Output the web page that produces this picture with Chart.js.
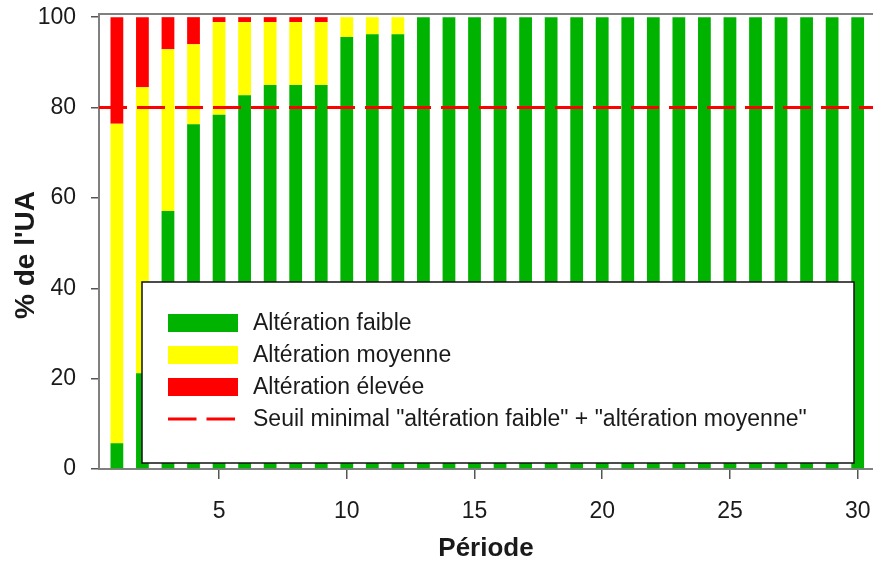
<!DOCTYPE html>
<html>
<head>
<meta charset="utf-8">
<script src="https://cdn.jsdelivr.net/npm/chart.js@4.4.1/dist/chart.umd.min.js"></script>
<style>
  html, body { margin: 0; padding: 0; background: #ffffff; }
  canvas { display: block; }
</style>
</head>
<body>
<canvas id="chart" width="873" height="561"></canvas>
<script>
// ---------------- DATA ----------------
const periods = [1, 2, 3, 4, 5, 6, 7, 8, 9, 10, 11, 12, 13, 14, 15, 16, 17, 18, 19, 20, 21, 22, 23, 24, 25, 26, 27, 28, 29, 30];
const alterationFaible  = [5.7, 21.2, 57.1, 76.3, 78.4, 82.7, 85.0, 85.0, 85.0, 95.6, 96.2, 96.2, 100, 100, 100, 100, 100, 100, 100, 100, 100, 100, 100, 100, 100, 100, 100, 100, 100, 100];
const alterationMoyenne = [70.7, 63.3, 35.8, 17.7, 20.5, 16.2, 13.9, 13.9, 13.9, 4.4, 3.8, 3.8, 0, 0, 0, 0, 0, 0, 0, 0, 0, 0, 0, 0, 0, 0, 0, 0, 0, 0];
const alterationElevee  = [23.6, 15.5, 7.1, 6.0, 1.1, 1.1, 1.1, 1.1, 1.1, 0, 0, 0, 0, 0, 0, 0, 0, 0, 0, 0, 0, 0, 0, 0, 0, 0, 0, 0, 0, 0];
const seuilMinimal = 80;
const xTickValues = [5, 10, 15, 20, 25, 30];
const yTickValues = [0, 20, 40, 60, 80, 100];
const seriesLabels = ['Altération faible', 'Altération moyenne', 'Altération élevée', 'Seuil minimal "altération faible" + "altération moyenne"'];
const xTitle = 'Période';
const yTitle = "% de l'UA";

// ---------------- STYLE ----------------
const FONT = "'Liberation Sans', Arial, Helvetica, sans-serif";
const GREEN = '#00b300';
const YELLOW = '#ffff00';
const RED = '#ff0000';
const AXIS_GREY = '#808080';
const TEXT = '#1a1a1a';
const X_MIN = 0.3, X_MAX = 30.6;

Chart.defaults.font.family = FONT;

const toPoints = (vals) => periods.map((p, i) => ({ x: p, y: vals[i] }));

const topFrame = {
  id: 'topFrame',
  beforeDatasetsDraw(chart) {
    const { ctx, chartArea: a } = chart;
    ctx.save();
    ctx.strokeStyle = AXIS_GREY;
    ctx.lineWidth = 2;
    ctx.beginPath();
    ctx.moveTo(a.left, a.top);
    ctx.lineTo(a.right, a.top);
    ctx.stroke();
    ctx.restore();
  }
};

const yTitlePlugin = {
  id: 'yTitlePlugin',
  afterDraw(chart) {
    const { ctx } = chart;
    ctx.save();
    ctx.translate(26, 255);
    ctx.rotate(-Math.PI / 2);
    ctx.font = 'bold 28px ' + FONT;
    ctx.fillStyle = TEXT;
    ctx.textAlign = 'center';
    ctx.textBaseline = 'middle';
    ctx.fillText(yTitle, 0, 0);
    ctx.restore();
  }
};

const boxLegend = {
  id: 'boxLegend',
  afterDatasetsDraw(chart) {
    const { ctx } = chart;
    const box = { left: 142, top: 282, right: 854, bottom: 463 };
    ctx.save();
    ctx.fillStyle = '#ffffff';
    ctx.fillRect(box.left, box.top, box.right - box.left, box.bottom - box.top);
    ctx.strokeStyle = '#111111';
    ctx.lineWidth = 1.5;
    ctx.strokeRect(box.left, box.top, box.right - box.left, box.bottom - box.top);

    const rows = [323, 355, 387, 419];
    const swL = 168, swR = 238, swH = 18, textX = 253;
    ctx.font = '23px ' + FONT;
    ctx.textAlign = 'left';
    ctx.textBaseline = 'middle';
    chart.data.datasets.forEach((ds, i) => {
      const y = rows[i];
      if (ds.type === 'line') {
        ctx.strokeStyle = ds.borderColor;
        ctx.lineWidth = 3;
        ctx.setLineDash([28.5, 10]);
        ctx.beginPath();
        ctx.moveTo(swL, y);
        ctx.lineTo(swR - 2, y);
        ctx.stroke();
        ctx.setLineDash([]);
      } else {
        ctx.fillStyle = ds.backgroundColor;
        ctx.fillRect(swL, y - swH / 2, swR - swL, swH);
      }
      ctx.fillStyle = TEXT;
      ctx.fillText(ds.label, textX, y + 1);
    });
    ctx.restore();
  }
};

const barCommon = { borderWidth: 0, barPercentage: 0.5, categoryPercentage: 1.0, order: 1, stack: 'ua' };

new Chart(document.getElementById('chart'), {
  type: 'bar',
  data: {
    datasets: [
      { label: seriesLabels[0], data: toPoints(alterationFaible), backgroundColor: GREEN, ...barCommon },
      { label: seriesLabels[1], data: toPoints(alterationMoyenne), backgroundColor: YELLOW, ...barCommon },
      { label: seriesLabels[2], data: toPoints(alterationElevee), backgroundColor: RED, ...barCommon },
      {
        type: 'line', label: seriesLabels[3], stack: 'seuil', order: 0,
        data: [{ x: X_MIN, y: seuilMinimal }, { x: X_MAX, y: seuilMinimal }],
        borderColor: RED, borderWidth: 3, borderDash: [28, 10], pointRadius: 0, fill: false
      }
    ]
  },
  options: {
    responsive: false,
    animation: false,
    layout: { padding: { top: 14, right: 0, bottom: 0, left: 0 } },
    plugins: { legend: { display: false }, tooltip: { enabled: false } },
    scales: {
      x: {
        type: 'linear', min: X_MIN, max: X_MAX, stacked: true, offset: false,
        grid: { display: true, offset: false, drawOnChartArea: false, drawTicks: true, tickLength: 10, color: '#555555', lineWidth: 1.5 },
        border: { display: true, color: AXIS_GREY, width: 2 },
        ticks: { font: { size: 23 }, color: TEXT, padding: 19, maxRotation: 0 },
        afterBuildTicks(scale) { scale.ticks = xTickValues.map(v => ({ value: v })); },
        afterFit(scale) { scale.height = 92; scale.paddingLeft = 0; scale.paddingRight = 0; },
        title: { display: true, text: xTitle, font: { size: 26, weight: 'bold' }, color: TEXT, padding: { top: 0, bottom: -3 } }
      },
      y: {
        type: 'linear', min: 0, max: 100.7, stacked: true,
        grid: { display: true, offset: false, drawOnChartArea: false, drawTicks: true, tickLength: 8, color: '#555555', lineWidth: 1.5 },
        border: { display: true, color: AXIS_GREY, width: 2 },
        ticks: { font: { size: 23 }, color: TEXT, padding: 15 },
        afterBuildTicks(scale) { scale.ticks = yTickValues.map(v => ({ value: v })); },
        afterFit(scale) { scale.width = 99; scale.paddingTop = 0; scale.paddingBottom = 0; }
      }
    }
  },
  plugins: [topFrame, boxLegend, yTitlePlugin]
});
</script>
</body>
</html>
